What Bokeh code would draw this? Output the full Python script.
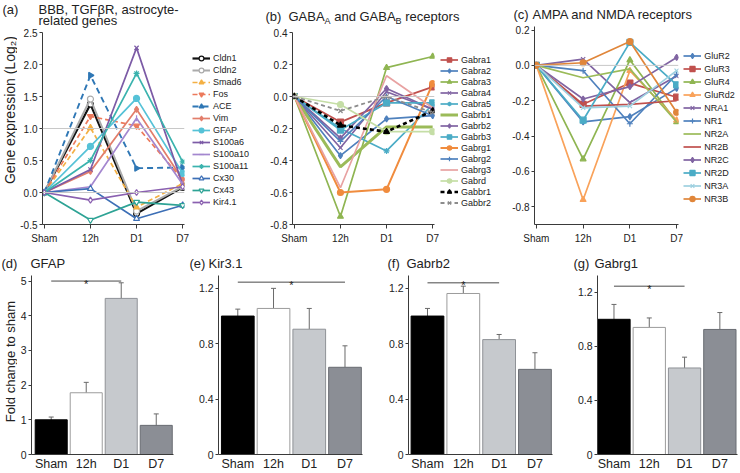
import numpy as np
from bokeh.plotting import figure
from bokeh.layouts import row, column
from bokeh.models import (Range1d, FixedTicker, NumeralTickFormatter, Legend, LegendItem,
                          Label, Span, Whisker, TeeHead, ColumnDataSource)
from bokeh.core.properties import value
from bokeh.embed import file_html
from bokeh.resources import INLINE

# ---------------- data ----------------
times = ["Sham", "12h", "D1", "D7"]

# (a) BBB, TGFbR, astrocyte-related genes (log2)
a_names = ["Cldn1", "Cldn2", "Smad6", "Fos", "ACE", "Vim", "GFAP", "S100a6",
           "S100a10", "S100a11", "Cx30", "Cx43", "Kir4.1"]
a_cldn1 = [0.0, 1.38, -0.33, 0.08]
a_cldn2 = [0.0, 1.46, -0.29, 0.09]
a_smad6 = [0.0, 1.01, -0.23, 0.14]
a_fos = [0.0, 1.19, 1.04, 0.20]
a_ace = [0.0, 1.83, 0.38, 0.39]
a_vim = [0.0, 0.33, 1.30, 0.20]
a_gfap = [0.0, 0.72, 1.47, 0.30]
a_s100a6 = [0.0, 0.36, 2.26, 0.12]
a_s100a10 = [0.0, 0.09, 1.16, 0.13]
a_s100a11 = [0.0, 0.50, 1.86, 0.48]
a_cx30 = [0.0, 0.06, -0.41, -0.20]
a_cx43 = [0.0, -0.43, -0.15, -0.20]
a_kir41 = [0.0, -0.12, 0.0, 0.09]
a_yticks = [-0.5, 0.0, 0.5, 1.0, 1.5, 2.0, 2.5]

# (b) GABA-A and GABA-B receptors
b_names = ["Gabra1", "Gabra2", "Gabra3", "Gabra4", "Gabra5", "Gabrb1", "Gabrb2",
           "Gabrb3", "Gabrg1", "Gabrg2", "Gabrg3", "Gabrd", "Gabbr1", "Gabbr2"]
b_gabra1 = [0.0, -0.16, -0.04, 0.06]
b_gabra2 = [0.0, -0.37, -0.14, -0.12]
b_gabra3 = [0.0, -0.75, 0.18, 0.25]
b_gabra4 = [0.0, -0.32, 0.03, -0.08]
b_gabra5 = [0.0, -0.20, -0.34, -0.05]
b_gabrb1 = [0.0, -0.44, -0.19, -0.19]
b_gabrb2 = [0.0, -0.26, 0.05, -0.08]
b_gabrb3 = [0.0, -0.21, -0.04, -0.04]
b_gabrg1 = [0.0, -0.60, -0.58, 0.08]
b_gabrg2 = [0.0, -0.28, 0.00, -0.12]
b_gabrg3 = [0.0, -0.57, 0.13, -0.07]
b_gabrd = [0.0, -0.05, -0.22, -0.22]
b_gabbr1 = [0.0, -0.18, -0.22, -0.09]
b_gabbr2 = [0.0, -0.09, 0.00, -0.10]
b_yticks = [-0.8, -0.6, -0.4, -0.2, 0.0, 0.2, 0.4]

# (c) AMPA and NMDA receptors
c_names = ["GluR2", "GluR3", "GluR4", "GluRd2", "NRA1", "NR1", "NR2A", "NR2B",
           "NR2C", "NR2D", "NR3A", "NR3B"]
c_glur2 = [0.0, -0.32, -0.29, -0.13]
c_glur3 = [0.0, -0.22, -0.10, -0.18]
c_glur4 = [0.0, -0.53, 0.03, -0.32]
c_glurd2 = [0.0, -0.76, -0.03, -0.31]
c_nra1 = [0.0, 0.035, -0.21, -0.06]
c_nr1 = [0.0, -0.03, -0.33, -0.05]
c_nr2a = [0.0, -0.07, -0.02, -0.32]
c_nr2b = [0.0, -0.23, -0.22, -0.20]
c_nr2c = [0.0, -0.19, -0.12, 0.045]
c_nr2d = [0.0, -0.31, 0.13, -0.11]
c_nr3a = [0.0, -0.24, -0.23, -0.03]
c_nr3b = [0.0, 0.015, 0.135, -0.265]
c_yticks = [-0.8, -0.6, -0.4, -0.2, 0.0, 0.2]

# (d)-(g) fold change to sham (mean, sem) and significance bracket
d_mean = [1.0, 1.78, 4.50, 0.84]
d_err = [0.08, 0.30, 0.45, 0.33]
e_mean = [1.0, 1.055, 0.905, 0.63]
e_err = [0.05, 0.145, 0.15, 0.155]
f_mean = [1.0, 1.163, 0.83, 0.615]
f_err = [0.055, 0.053, 0.037, 0.12]
g_mean = [1.0, 0.94, 0.64, 0.925]
g_err = [0.11, 0.07, 0.08, 0.125]
d_sig = ("Sham", "D1", 5.0)
e_sig = ("Sham", "D7", 1.245)
f_sig = ("Sham", "D1", 1.24)
g_sig = ("Sham", "D1", 1.245)
d_yticks = [0, 1, 2, 3, 4, 5]
efg_yticks = [0, 0.4, 0.8, 1.2]

# ---------------- styles ----------------
FONT = "Liberation Sans"
AX = "#3a3a3a"
TXT = "#222222"
xs = list(range(len(times)))
xlabels = {i: t for i, t in enumerate(times)}

a_series = [a_cldn1, a_cldn2, a_smad6, a_fos, a_ace, a_vim, a_gfap, a_s100a6,
            a_s100a10, a_s100a11, a_cx30, a_cx43, a_kir41]
a_colors = ["#111111", "#ababab", "#f4b044", "#ec7a5c", "#2f77b5", "#e27e6b", "#56c2d7",
            "#7c5ba6", "#a487cf", "#3bb3ae", "#3d6fb6", "#2ea395", "#8a60b0"]
a_markers = ["circle", "circle", "triangle", "inverted_triangle", "triangle", "diamond", "circle",
             "x", "dash", "asterisk", "triangle", "inverted_triangle", "diamond"]
a_open = [True, True, False, False, False, False, False, False, False, False, True, True, True]
a_dash = ["solid", "solid", "5 3", "5 3", "6 4", "solid", "solid", "solid", "solid", "solid",
          "solid", "solid", "solid"]
a_width = [2.2, 2.0, 1.7, 1.7, 1.9, 1.7, 1.7, 1.7, 1.7, 1.7, 1.7, 1.7, 1.7]
a_angle = [0, 0, 0, 0, -np.pi / 2, 0, 0, 0, np.pi / 2, 0, 0, 0, 0]

b_series = [b_gabra1, b_gabra2, b_gabra3, b_gabra4, b_gabra5, b_gabrb1, b_gabrb2, b_gabrb3,
            b_gabrg1, b_gabrg2, b_gabrg3, b_gabrd, b_gabbr1, b_gabbr2]
b_colors = ["#c0504d", "#4f81bd", "#8fb552", "#8064a2", "#4bacc6", "#9bbb59", "#8064a2",
            "#4bacc6", "#f08c3e", "#4f81bd", "#e8a2a2", "#c5dea6", "#000000", "#8c8c8c"]
b_markers = ["square", "diamond", "triangle", "x", "asterisk", None, "diamond", "square",
             "circle", "cross", None, "circle", "triangle", "x"]
b_dash = ["solid"] * 12 + ["4 3", "4 3"]
b_width = [1.7, 1.7, 1.7, 1.7, 1.7, 3.0, 1.7, 1.7, 2.0, 1.7, 1.7, 1.7, 2.6, 1.8]

c_series = [c_glur2, c_glur3, c_glur4, c_glurd2, c_nra1, c_nr1, c_nr2a, c_nr2b, c_nr2c,
            c_nr2d, c_nr3a, c_nr3b]
c_colors = ["#4f81bd", "#c0504d", "#8fb552", "#f9a25a", "#8064a2", "#4f81bd", "#9bbb59",
            "#c0504d", "#8064a2", "#4bacc6", "#9dd0e0", "#e0863a"]
c_markers = ["diamond", "square", "triangle", "triangle", "x", "cross", None, None, "diamond",
             "square", "x", "circle"]
c_width = [1.7] * 12

bar_fill = ["#000000", "#ffffff", "#c6c9cd", "#8b8e95"]
bar_line = ["#000000", "#9c9c9c", "#8f9297", "#696c72"]

BASE_SHIFT = 0.36  # em: observed offset of the text glyph's alphabetic baseline


def plain_fig(w, h, xr=None, yr=None):
    p = figure(width=w, height=h, x_range=xr or Range1d(0, w), y_range=yr or Range1d(0, h),
               min_border=0, x_axis_location=None, y_axis_location=None,
               output_backend="svg", toolbar_location=None)
    p.outline_line_color = None
    p.xgrid.visible = False
    p.ygrid.visible = False
    p.border_fill_color = "white"
    p.background_fill_color = "white"
    return p


def base_fig(w, h, l, r, t, b, xr, yr):
    p = figure(width=w, height=h, min_border_left=l, min_border_right=r,
               min_border_top=t, min_border_bottom=b, x_range=xr, y_range=yr,
               output_backend="svg", toolbar_location=None)
    p.outline_line_color = None
    p.xgrid.visible = False
    p.ygrid.visible = False
    p.background_fill_color = "white"
    p.border_fill_color = "white"
    for ax in (p.xaxis[0], p.yaxis[0]):
        ax.axis_line_color = AX
        ax.major_tick_line_color = AX
        ax.minor_tick_line_color = None
        ax.major_tick_in = 0
        ax.major_label_text_font = FONT
        ax.major_label_text_color = TXT
    return p


def strip(w, h, items, frame_tb=(0, 0)):
    """Text-only figure; items = (text, x, y_from_top, size_px, angle, align, baseline).
    frame_tb: (top, bottom) borders of a plot this strip is row-aligned with."""
    ft, fb = frame_tb
    p = plain_fig(w, h, yr=Range1d(fb, h - ft))
    for (s, x, y, size, ang, al, bl) in items:
        if bl == "alphabetic":
            y = y - BASE_SHIFT * size
        p.text(x=[x], y=[h - y], text=[s], angle=ang, text_font=value(FONT),
               text_font_size=value(f"{size}px"), text_color=TXT, text_align=al,
               text_baseline=bl)
    return p


def T(s, ax, ay, size=13, left=0.0, top=0.0, ang=0.0, al="left", bl="alphabetic"):
    # absolute page position (px) -> strip-local position
    return (s, ax - left, ay - top, size, ang, al, bl)


def line_panel(w, h, l, r, t, fh, yr, yticks, names, series, colors, markers, widths,
               dashes=None, opens=None, angles=None, leg_w=55, leg_xy=(0, 0), item_h=11):
    p = base_fig(w, h, l, r, t, h - t - fh, Range1d(-0.04, 3.04), yr)
    p.yaxis.ticker = FixedTicker(ticks=yticks)
    p.yaxis.formatter = NumeralTickFormatter(format="0.0")
    p.yaxis.major_tick_out = 3
    p.yaxis.major_label_standoff = 2
    p.yaxis.major_label_text_font_size = "10px"
    p.xaxis.ticker = FixedTicker(ticks=xs)
    p.xaxis.major_label_overrides = xlabels
    p.xaxis.major_tick_out = 4
    p.xaxis.major_label_standoff = 4
    p.xaxis.major_label_text_font_size = "10px"
    p.add_layout(Span(location=0, dimension="width", line_color="#c8c8c8", line_width=1))
    # legend strip: same series drawn outside its visible range, legend in its frame
    lg = plain_fig(leg_w, h, Range1d(100, 101), Range1d(100, 101))
    items = []
    for i, (nm, ys) in enumerate(zip(names, series)):
        c = colors[i]
        d = dashes[i] if dashes else "solid"
        m = markers[i]
        fill = "white" if (opens and opens[i]) else c
        ang = angles[i] if angles else 0.0
        p.line(xs, ys, line_color=c, line_width=widths[i], line_dash=d)
        if m:
            p.scatter(xs, ys, marker=m, size=6, line_color=c, fill_color=fill,
                      line_width=1.2, angle=ang)
        rs = [lg.line(xs, ys, line_color=c, line_width=widths[i], line_dash=d)]
        if m:
            rs.append(lg.scatter(xs, ys, marker=m, size=6, line_color=c, fill_color=fill,
                                 line_width=1.2, angle=ang))
        items.append(LegendItem(label=nm, renderers=rs))
    leg = Legend(items=items, location=leg_xy, orientation="vertical", glyph_width=18,
                 glyph_height=item_h, label_height=item_h, spacing=0, padding=0, margin=0,
                 label_standoff=3, label_text_font_size="9px", label_text_font=FONT,
                 label_text_color=TXT, border_line_alpha=0, background_fill_alpha=0)
    lg.add_layout(leg)
    return p, lg


# ---------------- top row (height 246) ----------------
# legend y is measured from the (row-aligned) plot frame bottom
pa, la = line_panel(174, 218, 23, 7, 4, 193, Range1d(-0.5, 2.5), a_yticks, a_names, a_series,
                    a_colors, a_markers, a_width, a_dash, a_open, a_angle,
                    leg_w=59, leg_xy=(1, 15.9), item_h=12)
pa.add_layout(Span(location=1.0, dimension="width", line_color="#c8c8c8", line_width=1))
ta = strip(250, 28, [T("(a)", 2, 13.3), T("BBB, TGFβR, astrocyte-", 38, 13.3),
                     T("related genes", 38, 24.8)])
ya = strip(17, 218, [T("Gene expression (Log₂)", 9, 110, 14, top=28, ang=np.pi / 2,
                       al="center", bl="middle")], frame_tb=(4, 21))

pb, lb = line_panel(189, 220, 42, 5, 6, 193, Range1d(-0.8, 0.4), b_yticks, b_names, b_series,
                    b_colors, b_markers, b_width, b_dash, leg_w=55, leg_xy=(1, 15.8),
                    item_h=11)
BL = 250
tb = strip(244, 26, [T("(b)", 265, 20.5, left=BL), T("GABA", 288, 20.5, left=BL),
                     T("A", 324.1, 23.5, 9, left=BL), T("and GABA", 333.7, 20.5, left=BL),
                     T("B", 395.1, 23.5, 9, left=BL), T("receptors", 404.7, 20.5, left=BL)])

pc, lc = line_panel(189, 223, 40, 5, 3, 200, Range1d(-0.9, 0.22), c_yticks, c_names, c_series,
                    c_colors, c_markers, c_width, leg_w=57, leg_xy=(0.3, 18.8), item_h=13)
CL = 494
tc = strip(246, 23, [T("(c)", 513, 19, left=CL),
                     T("AMPA and NMDA receptors", 532, 19, left=CL)])


# ---------------- bottom row (height 227) ----------------
def bar_panel(w, l, r, xr, ymax, yticks, means, errs, sig, two_sided):
    p = base_fig(w, 201, l, r, 3, 17, xr, Range1d(0, ymax))
    p.yaxis.ticker = FixedTicker(ticks=yticks)
    if max(yticks) > 2:
        p.yaxis.formatter = NumeralTickFormatter(format="0")
    else:
        p.yaxis.formatter = NumeralTickFormatter(format="0.0")
        p.yaxis.major_label_overrides = {0: "0"}
    p.yaxis.major_tick_out = 3
    p.yaxis.major_label_standoff = 2
    p.yaxis.major_label_text_font_size = "10.5px"
    p.xaxis.ticker = FixedTicker(ticks=xs)
    p.xaxis.major_label_overrides = xlabels
    p.xaxis.major_tick_out = 0
    p.xaxis.major_label_standoff = 2
    p.xaxis.major_label_text_font_size = "12.5px"
    p.vbar(x=xs, top=means, width=0.915, bottom=0, fill_color=bar_fill, line_color=bar_line,
           line_width=1)
    upper = [m + e for m, e in zip(means, errs)]
    lower = [m - e for m, e in zip(means, errs)] if two_sided else list(means)
    src = ColumnDataSource(dict(x=xs, upper=upper, lower=lower))
    wk = Whisker(base="x", upper="upper", lower="lower", source=src, line_color="#6a6a6a",
                 line_width=1,
                 upper_head=TeeHead(size=5, line_color="#6a6a6a", line_width=1),
                 lower_head=TeeHead(size=5, line_color="#6a6a6a", line_width=1) if two_sided else None)
    p.add_layout(wk)
    i0, i1, sy = times.index(sig[0]), times.index(sig[1]), sig[2]
    p.segment(x0=[i0], x1=[i1], y0=[sy], y1=[sy], line_color="#4a4a4a", line_width=1)
    p.add_layout(Label(x=(i0 + i1) / 2, y=sy, text="*", text_font=FONT, text_font_size="11px",
                       text_color=TXT, text_align="center", text_baseline="alphabetic",
                       y_offset=-2.5))
    return p


pd_ = bar_panel(171, 12, 15, Range1d(-0.563, 3.493), 5.16, d_yticks, d_mean, d_err, d_sig, True)
pe = bar_panel(192, 30, 18, Range1d(-0.54, 3.49), 1.293, efg_yticks, e_mean, e_err, e_sig, False)
pf = bar_panel(188, 28, 16, Range1d(-0.53, 3.49), 1.293, efg_yticks, f_mean, f_err, f_sig, False)
pg = bar_panel(172, 29, 3, Range1d(-0.467, 3.5), 1.324, efg_yticks, g_mean, g_err, g_sig, False)

BT = 246
bstrip = strip(740, 26, [T("(d)", 1, 268, top=BT), T("GFAP", 30, 268, top=BT),
                         T("(e)", 189, 268, top=BT), T("Kir3.1", 208, 268, top=BT),
                         T("(f)", 387, 268, top=BT), T("Gabrb2", 406, 268, top=BT),
                         T("(g)", 573, 268, top=BT), T("Gabrg1", 594, 268, top=BT)])
yd = strip(17, 201, [T("Fold change to sham", 10, 362, 13, top=272, ang=np.pi / 2,
                       al="center", bl="middle")], frame_tb=(3, 17))

top_row = row(column(ta, row(ya, pa, la)), column(tb, row(pb, lb)), column(tc, row(pc, lc)))
bottom_row = row(yd, pd_, pe, pf, pg)
layout = column(top_row, bstrip, bottom_row)
open("out.html", "w").write(file_html(layout, INLINE, title="Gene expression"))
